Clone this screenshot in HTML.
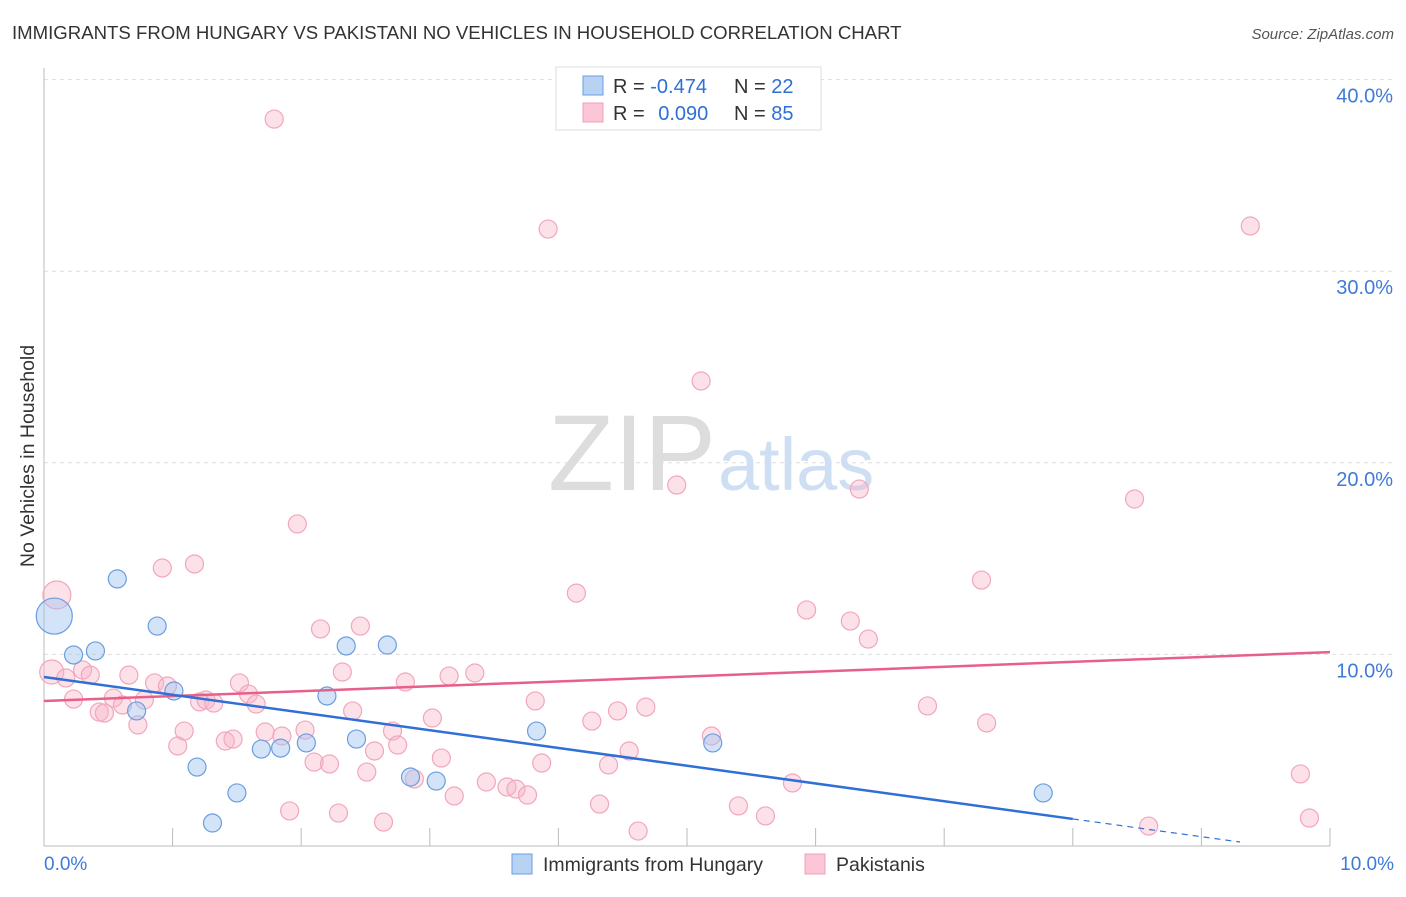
<!DOCTYPE html>
<html><head><meta charset="utf-8"><style>
body{margin:0;background:#fff;font-family:"Liberation Sans",sans-serif;}
svg text{font-family:"Liberation Sans",sans-serif;}
</style></head><body>
<svg id="chart" width="1406" height="892" xmlns="http://www.w3.org/2000/svg">
<text x="12" y="39" font-size="18.6" fill="#333">IMMIGRANTS FROM HUNGARY VS PAKISTANI NO VEHICLES IN HOUSEHOLD CORRELATION CHART</text>
<text x="1394" y="39" font-size="15" fill="#555" text-anchor="end" font-style="italic">Source: ZipAtlas.com</text>
<text transform="translate(34,456) rotate(-90)" font-size="19.5" fill="#333" text-anchor="middle">No Vehicles in Household</text>
<g id="grid"></g>
<text x="716" y="490" font-size="108" fill="#ddd" font-family="Liberation Serif" text-anchor="end">ZIP</text>
<text x="718" y="490" font-size="74" fill="#cfdff3">atlas</text>
<g id="pts"></g>
<g id="lines"></g>
<g>
<rect x="556" y="67" width="265" height="63" fill="#fff" stroke="#ddd"/>
<rect x="583" y="76" width="20" height="19" fill="#b8d2f4" stroke="#6a9ee0"/>
<rect x="583" y="103" width="20" height="19" fill="#fbc6d6" stroke="#f0a0b8"/>
<text x="613" y="93" font-size="20" fill="#333">R = <tspan fill="#2f6fd6">-0.474</tspan></text>
<text x="734" y="93" font-size="20" fill="#333">N = <tspan fill="#2f6fd6">22</tspan></text>
<text x="613" y="120" font-size="20" fill="#333">R = <tspan fill="#2f6fd6" dx="8">0.090</tspan></text>
<text x="734" y="120" font-size="20" fill="#333">N = <tspan fill="#2f6fd6">85</tspan></text>
</g>
<g>
<rect x="512" y="854" width="20" height="20" fill="#b8d2f4" stroke="#6a9ee0"/>
<text x="543" y="871" font-size="19.5" fill="#333">Immigrants from Hungary</text>
<rect x="805" y="854" width="20" height="20" fill="#fbc6d6" stroke="#f0a0b8"/>
<text x="836" y="871" font-size="19.5" fill="#333">Pakistanis</text>
</g>
</svg>
<script>
const yTicks=[10,20,30,40];
const yTickLabels=["10.0%","20.0%","30.0%","40.0%"];
const xTickLabels=["0.0%","10.0%"];
const hungaryX=[.08,.23,.40,.57,.72,.88,1.01,1.19,1.31,1.50,1.69,1.84,2.04,2.20,2.35,2.43,2.67,2.85,3.05,3.83,5.20,7.77];
const hungaryY=[12.0,9.97,10.18,13.94,7.05,11.48,8.09,4.12,1.20,2.77,5.06,5.11,5.38,7.83,10.44,5.58,10.49,3.60,3.39,6.00,5.38,2.77];
const pakX=[.10,.06,.17,.23,.30,.36,.43,.47,.54,.61,.66,.73,.78,.86,.92,.96,1.04,1.09,1.17,1.21,1.26,1.32,1.41,1.47,1.52,1.59,1.65,1.72,1.79,1.85,1.91,1.97,2.03,2.10,2.15,2.22,2.29,2.32,2.40,2.46,2.51,2.57,2.64,2.71,2.75,2.81,2.88,3.02,3.09,3.15,3.19,3.35,3.44,3.60,3.67,3.76,3.82,3.87,3.92,4.14,4.26,4.32,4.39,4.46,4.55,4.62,4.68,4.92,5.11,5.19,5.40,5.61,5.82,5.93,6.27,6.34,6.41,6.87,7.29,7.33,8.48,8.59,9.38,9.77,9.84];
const pakY=[13.10,9.08,8.77,7.67,9.19,8.92,6.99,6.94,7.72,7.36,8.92,6.32,7.62,8.51,14.51,8.35,5.22,6.00,14.72,7.52,7.62,7.46,5.48,5.58,8.51,7.93,7.41,5.95,37.94,5.74,1.83,16.81,6.05,4.38,11.33,4.28,1.72,9.08,7.05,11.48,3.86,4.96,1.25,6.00,5.27,8.56,3.50,6.68,4.59,8.87,2.61,9.03,3.34,3.08,2.97,2.66,7.57,4.33,32.20,13.20,6.52,2.19,4.23,7.05,4.96,0.78,7.25,18.84,24.27,5.74,2.09,1.57,3.29,12.32,11.74,18.63,10.80,7.31,13.88,6.42,18.11,1.04,32.36,3.76,1.46];
const hungaryTrend=[8.82,-0.926];
const pakTrend=[7.57,0.255];
const X0=44,X1=1330,Y0=846,YPER=19.16;
const sx=v=>X0+(X1-X0)*v/10, sy=v=>Y0-v*YPER;
const NS="http://www.w3.org/2000/svg";
function mk(t,a,p){const e=document.createElementNS(NS,t);for(const k in a)e.setAttribute(k,a[k]);p.appendChild(e);return e;}
const grid=document.getElementById('grid');
yTicks.forEach((v,i)=>{
 const l=mk('line',{x1:X0,x2:1394,y1:sy(v),y2:sy(v),stroke:'#ddd','stroke-dasharray':'4,4'},grid);
 
 
 const t=mk('text',{x:1393,y:sy(v)+23,'font-size':20,fill:'#3f7ad8','text-anchor':'end'},grid);t.textContent=yTickLabels[i];
 
 
});
const ax=mk('line',{x1:X0,x2:X0,y1:68,y2:Y0,stroke:'#bbb'},grid);


const bx=mk('line',{x1:X0,x2:X1,y1:Y0,y2:Y0,stroke:'#bbb'},grid);


for(let i=1;i<=10;i++){const tk=mk('line',{x1:sx(i),x2:sx(i),y1:Y0-18,y2:Y0,stroke:'#bbb'},grid);
 
 }
[[0,'start',44],[1,'end',1394]].forEach(([i,a,x])=>{const t=mk('text',{x:x,y:870,'font-size':19,fill:'#3f7ad8','text-anchor':a},grid);t.textContent=xTickLabels[i];
 
 });
const pts=document.getElementById('pts');
pakX.forEach((x,i)=>{const c=mk('circle',{cx:sx(x),cy:sy(pakY[i]),r:i==0?14:(i==1?12:9),fill:'rgba(248,180,200,0.4)',stroke:'#f2a6bd','stroke-width':1.2},pts);
 
 });
hungaryX.forEach((x,i)=>{const c=mk('circle',{cx:sx(x),cy:sy(hungaryY[i]),r:i==0?18:9,fill:'rgba(160,196,240,0.45)',stroke:'#6a9ee0','stroke-width':1.2},pts);
 
 });
const lines=document.getElementById('lines');
const f=(t,x)=>t[0]+t[1]*x;
const pl=mk('line',{x1:sx(0),y1:sy(f(pakTrend,0)),x2:sx(10),y2:sy(f(pakTrend,10)),stroke:'#e8608a','stroke-width':2.5},lines);


const hl=mk('line',{x1:sx(0),y1:sy(f(hungaryTrend,0)),x2:sx(8),y2:sy(f(hungaryTrend,8)),stroke:'#2f6fd6','stroke-width':2.5},lines);


const hd=mk('line',{x1:sx(8),y1:sy(f(hungaryTrend,8)),x2:sx(9.3),y2:sy(f(hungaryTrend,9.3)),stroke:'#2f6fd6','stroke-width':1.2,'stroke-dasharray':'6,5'},lines);


</script>
</body></html>
